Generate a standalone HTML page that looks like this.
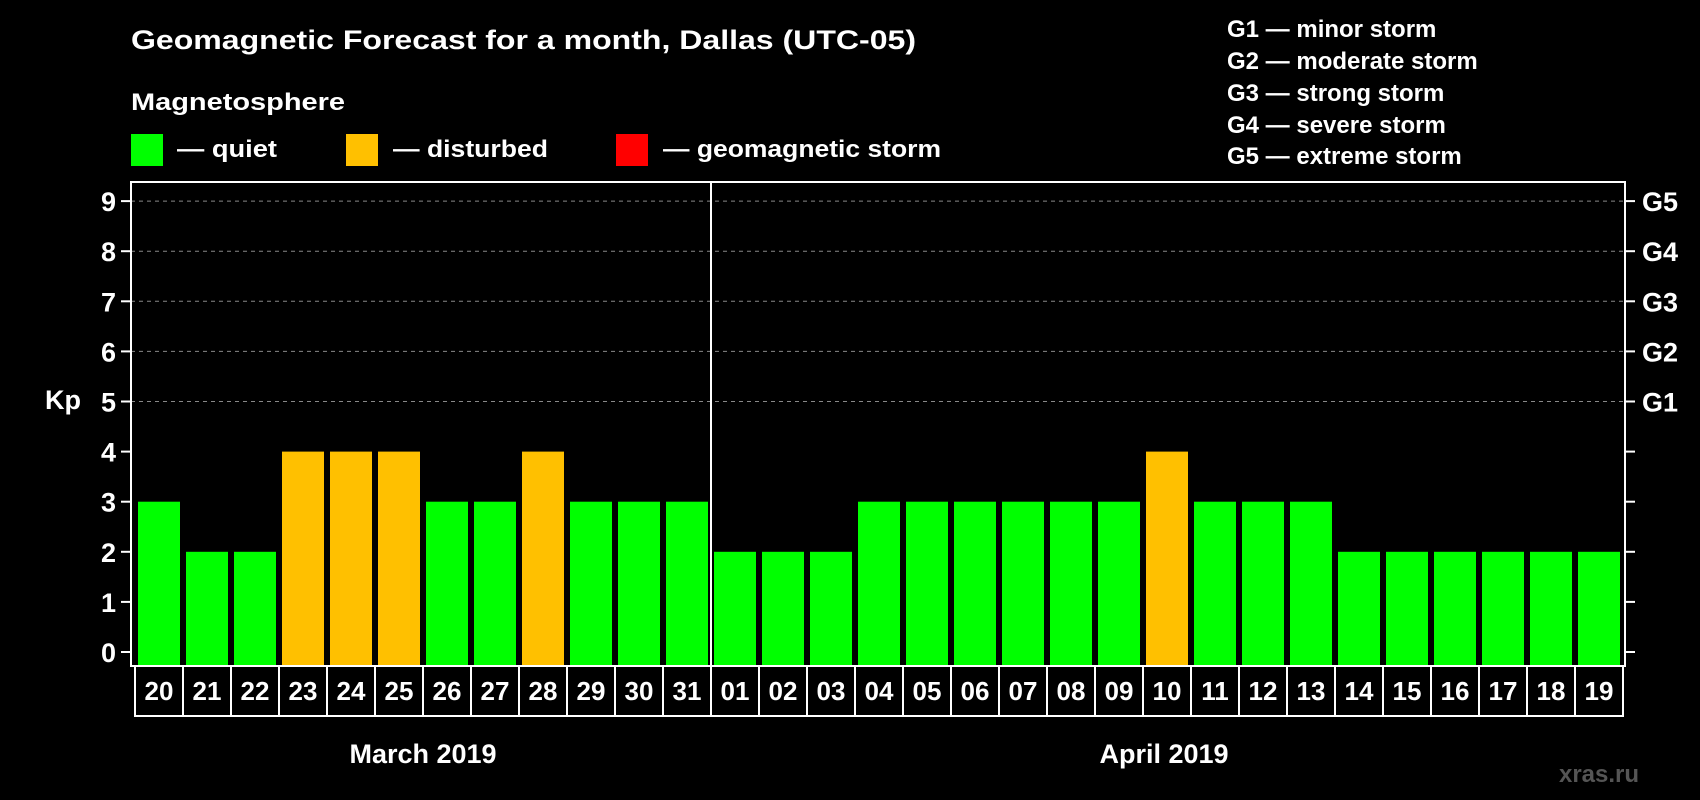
<!DOCTYPE html>
<html><head><meta charset="utf-8"><style>
html,body{margin:0;padding:0;background:#000;}
svg{display:block;font-family:"Liberation Sans",Arial,sans-serif;font-weight:bold;}
</style></head><body>
<svg id="chart" width="1700" height="800" viewBox="0 0 1700 800">
<rect width="1700" height="800" fill="#000"/>
<text x="131" y="49" fill="#fff" font-size="27" textLength="785" lengthAdjust="spacingAndGlyphs">Geomagnetic Forecast for a month, Dallas (UTC-05)</text>
<text x="131" y="110" fill="#fff" font-size="24" textLength="214" lengthAdjust="spacingAndGlyphs">Magnetosphere</text>
<g><rect x="131" y="134" width="32" height="32" fill="#00ff00"/><text x="177" y="157" fill="#fff" font-size="24" textLength="100" lengthAdjust="spacingAndGlyphs">— quiet</text></g>
<g><rect x="346" y="134" width="32" height="32" fill="#ffc000"/><text x="393" y="157" fill="#fff" font-size="24" textLength="155" lengthAdjust="spacingAndGlyphs">— disturbed</text></g>
<g><rect x="616" y="134" width="32" height="32" fill="#ff0000"/><text x="663" y="157" fill="#fff" font-size="24" textLength="278" lengthAdjust="spacingAndGlyphs">— geomagnetic storm</text></g>
<g fill="#fff" font-size="24">
<text x="1227" y="37">G1 — minor storm</text>
<text x="1227" y="69">G2 — moderate storm</text>
<text x="1227" y="101">G3 — strong storm</text>
<text x="1227" y="133">G4 — severe storm</text>
<text x="1227" y="164">G5 — extreme storm</text>
</g>
<text x="63" y="409" fill="#fff" font-size="27" text-anchor="middle">Kp</text>
<g id="grid"></g><g id="bars"></g><g id="axes"></g><g id="labels"></g>
<text x="423" y="763" fill="#fff" font-size="27" text-anchor="middle">March 2019</text>
<text x="1164" y="763" fill="#fff" font-size="27" text-anchor="middle">April 2019</text>
<text x="1599" y="782" fill="#555" font-size="24" text-anchor="middle">xras.ru</text>
</svg>
<script>
const days = ["20","21","22","23","24","25","26","27","28","29","30","31","01","02","03","04","05","06","07","08","09","10","11","12","13","14","15","16","17","18","19"];
const kpValues = [3,2,2,4,4,4,3,3,4,3,3,3,2,2,2,3,3,3,3,3,3,4,3,3,3,2,2,2,2,2,2];
const yTicks = [0,1,2,3,4,5,6,7,8,9];
const gLabels = ["G1","G2","G3","G4","G5"];
const NS="http://www.w3.org/2000/svg";
const L=131,R=1625,T=182,B=666;
function y(v){return 652-v*50.1;}
function x(i){return 138+i*48;}
function mk(tag,attrs,parent){const e=document.createElementNS(NS,tag);for(const k in attrs)e.setAttribute(k,attrs[k]);parent.appendChild(e);return e;}
const grid=document.getElementById('grid'),bars=document.getElementById('bars'),axes=document.getElementById('axes'),labels=document.getElementById('labels');
yTicks.forEach(v=>{
  if(v>=5){const g=mk('line',{x1:L,x2:R,y1:y(v),y2:y(v),stroke:'#888','stroke-width':1,'stroke-dasharray':'4,4'},grid);
  
  }
  const t1=mk('line',{x1:L-10,x2:L,y1:y(v),y2:y(v),stroke:'#fff','stroke-width':2},axes);
  
  
  const t2=mk('line',{x1:R,x2:R+10,y1:y(v),y2:y(v),stroke:'#fff','stroke-width':2},axes);
  
  
  const lb=mk('text',{x:116,y:y(v)+10,fill:'#fff','font-size':27,'text-anchor':'end'},axes);
  lb.textContent=v;
  
  
});
gLabels.forEach((g,i)=>{
  const t=mk('text',{x:1642,y:y(5+i)+10,fill:'#fff','font-size':27},axes);
  t.textContent=g;
  
  
});
kpValues.forEach((v,i)=>{
  const c=v>=5?'#ff0000':(v>=4?'#ffc000':'#00ff00');
  const b=mk('rect',{x:x(i),y:y(v),width:42,height:B-y(v),fill:c},bars);
  
  
});
const fr=mk('rect',{x:L,y:T,width:R-L,height:B-T,fill:'none',stroke:'#fff','stroke-width':2},axes);


const dv=mk('line',{x1:x(12)-3,x2:x(12)-3,y1:T,y2:B,stroke:'#fff','stroke-width':2},axes);


days.forEach((d,i)=>{
  const c=mk('rect',{x:x(i)-3,y:B,width:48,height:50,fill:'none',stroke:'#fff','stroke-width':2},labels);
  
  
  const t=mk('text',{x:x(i)+21,y:B+34,fill:'#fff','font-size':26,'text-anchor':'middle'},labels);
  t.textContent=d;
  
  
});
</script>
</body></html>
